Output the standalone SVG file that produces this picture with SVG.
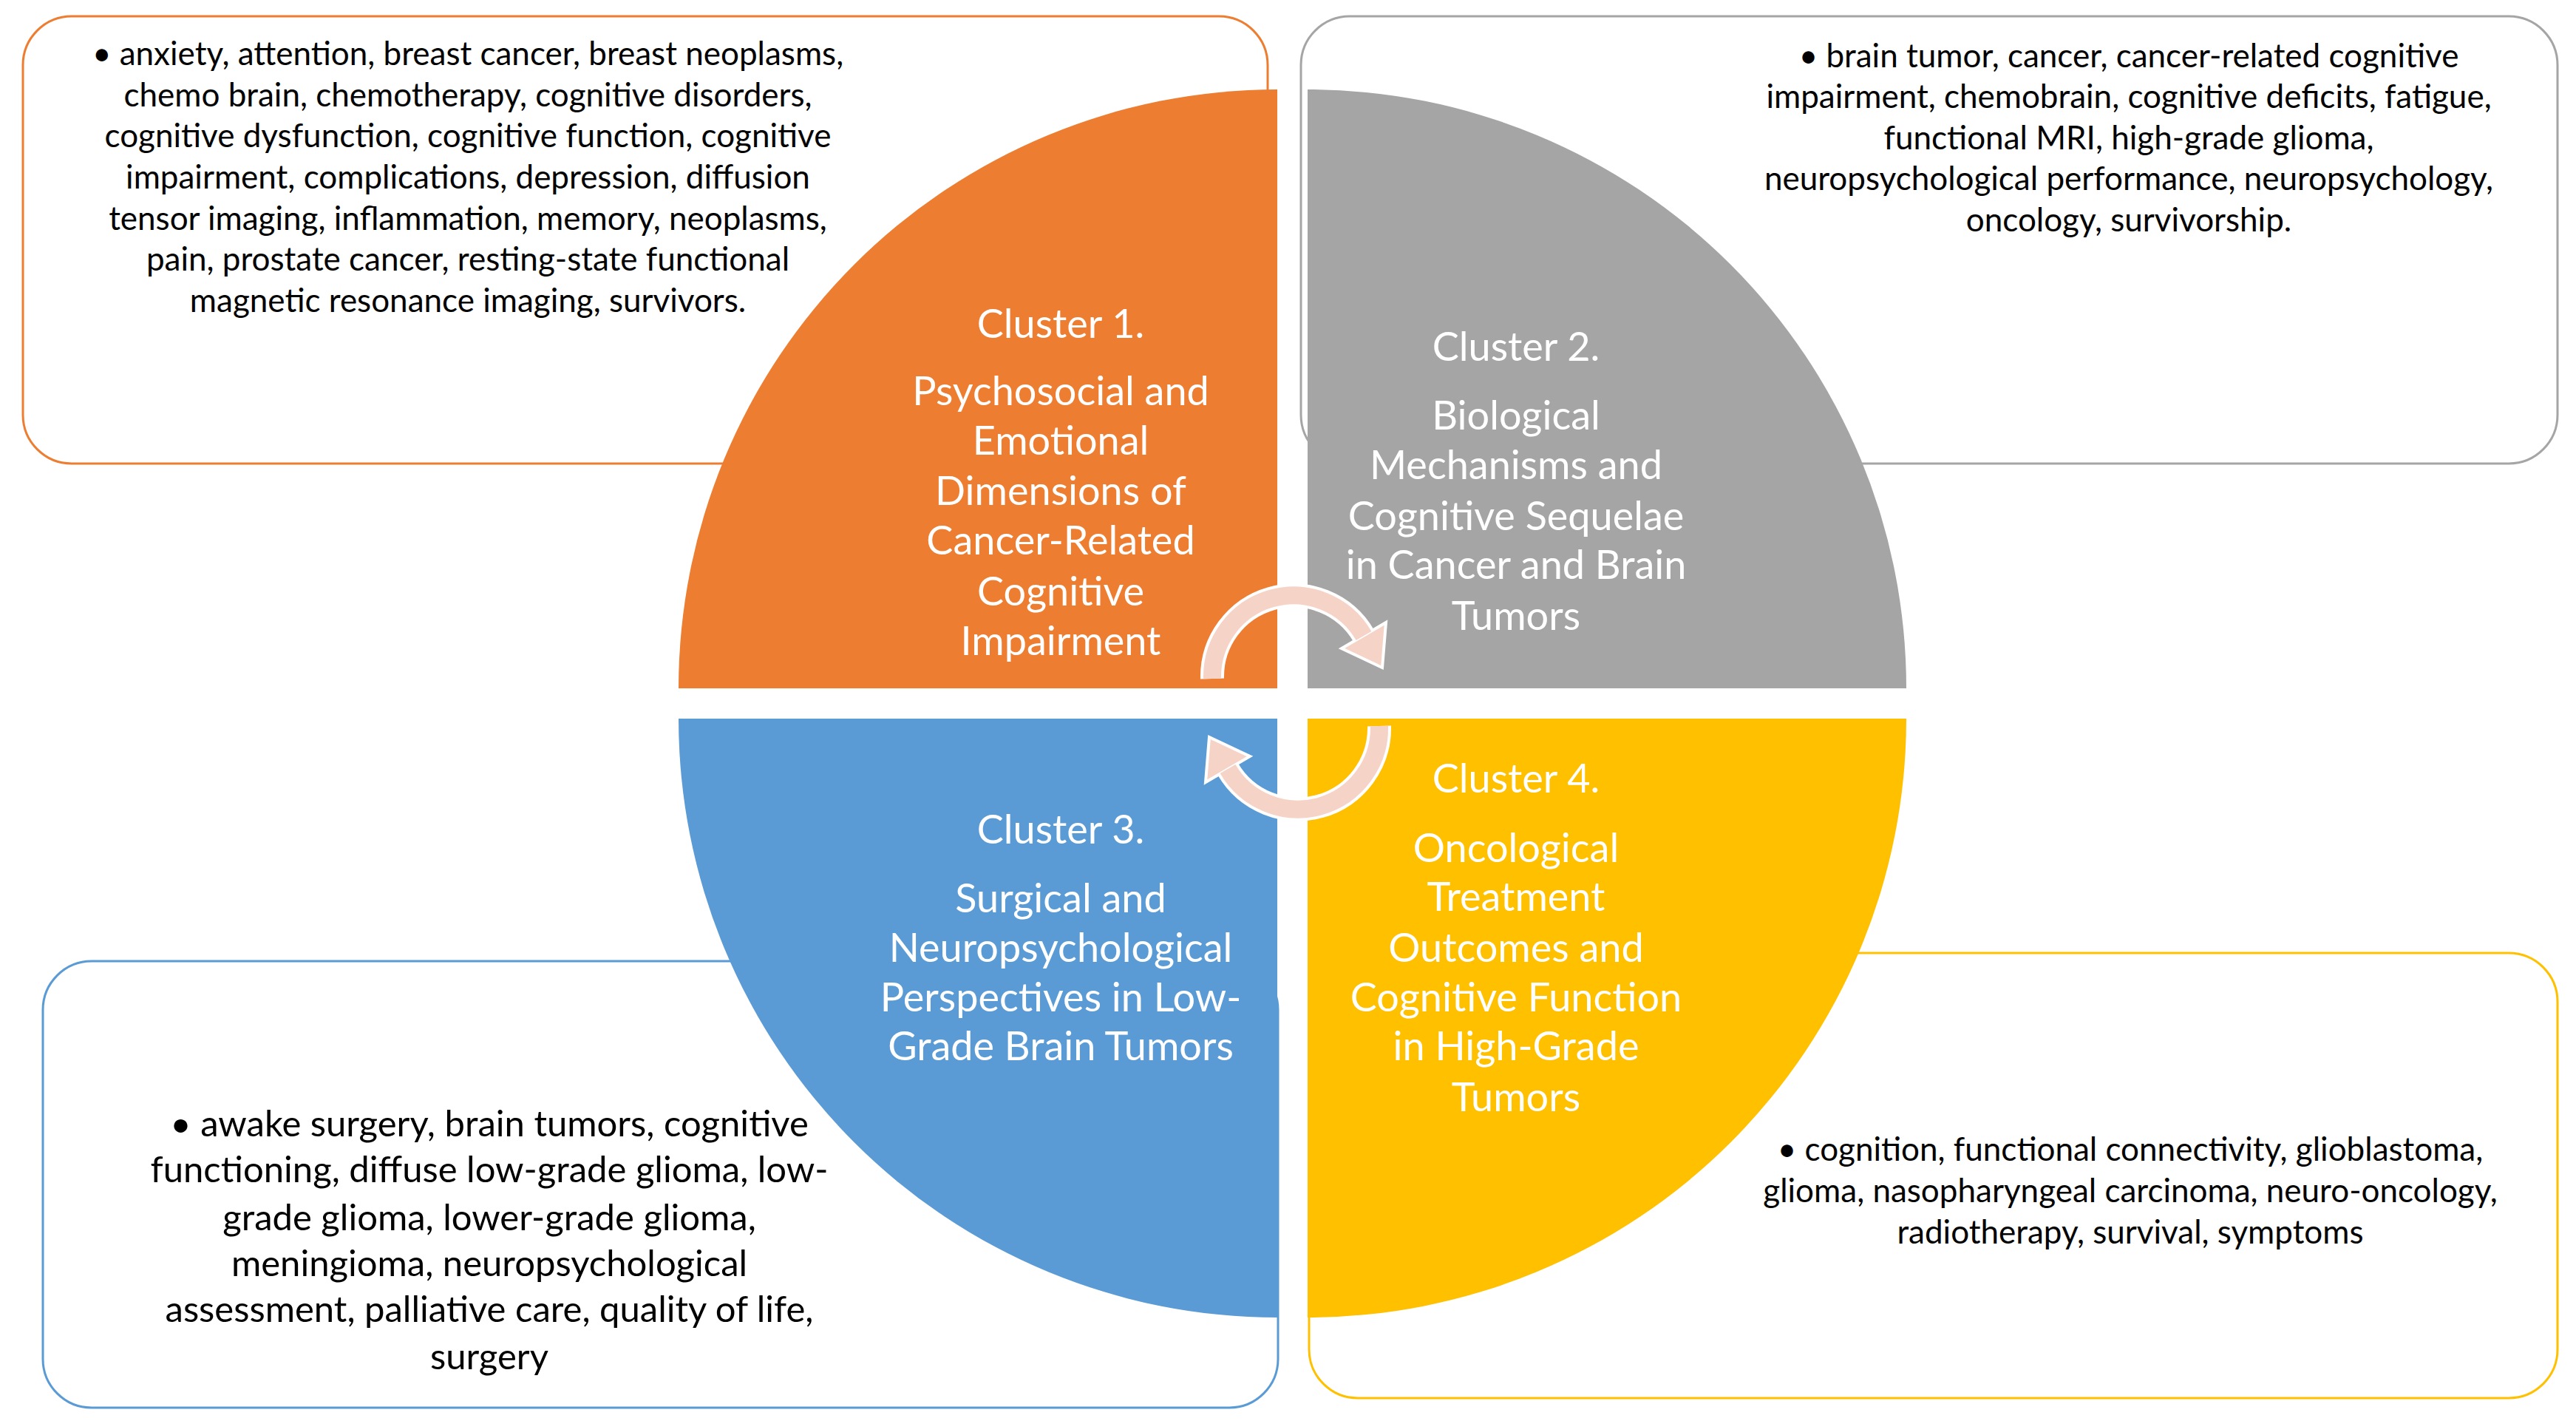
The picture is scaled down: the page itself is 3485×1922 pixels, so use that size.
<svg xmlns="http://www.w3.org/2000/svg" width="3485" height="1922" viewBox="0 0 3485 1922">
<style>
.box{fill:#fff;stroke-width:3}
.kw{font-family:Lato,"Open Sans",sans-serif;font-size:44px;fill:#000;text-anchor:middle}
.kb{font-family:Lato,"Open Sans",sans-serif;font-size:49px;fill:#000;text-anchor:middle}
.cl{font-family:Lato,"Open Sans",sans-serif;font-size:54px;fill:#fff;text-anchor:middle}
.arr{fill:none;stroke:#F6D3C7;stroke-width:24}
.arro{fill:none;stroke:#fff;stroke-width:32}
</style>
<rect width="3485" height="1922" fill="#fff"/>
<g id="box1"><rect class="box" x="31" y="22" width="1684" height="605" rx="66" stroke="#ED7D31"/></g>
<g id="box2"><rect class="box" x="1760" y="22" width="1700" height="605" rx="66" stroke="#A5A5A5"/></g>
<g id="box3"><rect class="box" x="58" y="1300" width="1671" height="604" rx="66" stroke="#5B9BD5"/></g>
<g id="box4"><rect class="box" x="1771" y="1289" width="1689" height="602" rx="66" stroke="#FFC000"/></g>
<g id="kw1">
<text class="kw"><tspan x="633" y="88">• anxiety, attention, breast cancer, breast neoplasms,</tspan><tspan x="633" y="144">chemo brain, chemotherapy, cognitive disorders,</tspan><tspan x="633" y="199">cognitive dysfunction, cognitive function, cognitive</tspan><tspan x="633" y="255">impairment, complications, depression, diffusion</tspan><tspan x="633" y="311">tensor imaging, inflammation, memory, neoplasms,</tspan><tspan x="633" y="366">pain, prostate cancer, resting-state functional</tspan><tspan x="633" y="422">magnetic resonance imaging, survivors.</tspan></text>
</g>
<g id="kw2">
<text class="kw"><tspan x="2880" y="91">• brain tumor, cancer, cancer-related cognitive</tspan><tspan x="2880" y="146">impairment, chemobrain, cognitive deficits, fatigue,</tspan><tspan x="2880" y="202">functional MRI, high-grade glioma,</tspan><tspan x="2880" y="257">neuropsychological performance, neuropsychology,</tspan><tspan x="2880" y="313">oncology, survivorship.</tspan></text>
</g>
<g id="kw3">
<text class="kb"><tspan x="662" y="1537">•  awake surgery, brain tumors, cognitive</tspan><tspan x="662" y="1599">functioning, diffuse low-grade glioma, low-</tspan><tspan x="662" y="1664">grade glioma, lower-grade glioma,</tspan><tspan x="662" y="1726">meningioma, neuropsychological</tspan><tspan x="662" y="1788">assessment, palliative care, quality of life,</tspan><tspan x="662" y="1852">surgery</tspan></text>
</g>
<g id="kw4">
<text class="kw"><tspan x="2882" y="1570">• cognition, functional connectivity, glioblastoma,</tspan><tspan x="2882" y="1626">glioma, nasopharyngeal carcinoma, neuro-oncology,</tspan><tspan x="2882" y="1682">radiotherapy, survival, symptoms</tspan></text>
</g>
<g id="cluster1">
<path d="M1728,931 L918,931 A810,810 0 0 1 1728,121 Z" fill="#ED7D31"/>
<text class="cl"><tspan x="1435" y="457">Cluster 1.</tspan><tspan x="1435" y="548">Psychosocial and</tspan><tspan x="1435" y="615">Emotional</tspan><tspan x="1435" y="683">Dimensions of</tspan><tspan x="1435" y="750">Cancer-Related</tspan><tspan x="1435" y="819">Cognitive</tspan><tspan x="1435" y="886">Impairment</tspan></text>
</g>
<g id="cluster2">
<path d="M1769,931 L1769,121 A810,810 0 0 1 2579,931 Z" fill="#A5A5A5"/>
<text class="cl"><tspan x="2051" y="488">Cluster 2.</tspan><tspan x="2051" y="581">Biological</tspan><tspan x="2051" y="648">Mechanisms and</tspan><tspan x="2051" y="717">Cognitive Sequelae</tspan><tspan x="2051" y="783">in Cancer and Brain</tspan><tspan x="2051" y="852">Tumors</tspan></text>
</g>
<g id="cluster3">
<path d="M1728,972 L1728,1782 A810,810 0 0 1 918,972 Z" fill="#5B9BD5"/>
<text class="cl"><tspan x="1435" y="1141">Cluster 3.</tspan><tspan x="1435" y="1234">Surgical and</tspan><tspan x="1435" y="1301">Neuropsychological</tspan><tspan x="1435" y="1368">Perspectives in Low-</tspan><tspan x="1435" y="1434">Grade Brain Tumors</tspan></text>
</g>
<g id="cluster4">
<path d="M1769,972 L2579,972 A810,810 0 0 1 1769,1782 Z" fill="#FFC000"/>
<text class="cl"><tspan x="2051" y="1072">Cluster 4.</tspan><tspan x="2051" y="1166">Oncological</tspan><tspan x="2051" y="1232">Treatment</tspan><tspan x="2051" y="1301">Outcomes and</tspan><tspan x="2051" y="1368">Cognitive Function</tspan><tspan x="2051" y="1434">in High-Grade</tspan><tspan x="2051" y="1503">Tumors</tspan></text>
</g>
<g id="connectors">
<path class="arro" d="M1640,918 A110,110 0 0 1 1845,860"/>
<polygon points="1870,903 1875,842 1815,877" fill="#F6D3C7" stroke="#fff" stroke-width="4"/>
<path class="arr" d="M1640,918 A110,110 0 0 1 1845,860"/>
<path class="arro" d="M1866,982 A110,110 0 0 1 1661,1040"/>
<polygon points="1636,997 1691,1023 1631,1058" fill="#F6D3C7" stroke="#fff" stroke-width="4"/>
<path class="arr" d="M1866,982 A110,110 0 0 1 1661,1040"/>
</g>
</svg>
